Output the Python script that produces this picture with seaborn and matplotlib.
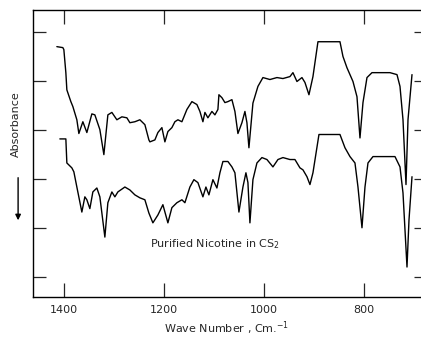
import pandas as pd
import seaborn as sns
import matplotlib.pyplot as plt

# Spectrum readings (wave number in cm-1, absorbance in chart divisions)
upper_wn = [1414, 1402, 1400, 1396, 1394, 1386, 1382, 1374, 1370, 1362,
            1354, 1344, 1338, 1328, 1320, 1312, 1304, 1294, 1284, 1274,
            1268, 1258, 1248, 1238, 1230, 1228, 1218, 1212, 1204, 1198,
            1192, 1184, 1178, 1172, 1164, 1154, 1144, 1134, 1128, 1122,
            1118, 1112, 1104, 1098, 1092, 1090, 1084, 1078, 1072, 1064,
            1058, 1052, 1044, 1038, 1034, 1030, 1022, 1012, 1002, 988,
            974, 962, 948, 942, 934, 924, 918, 910, 902, 892,
            848, 842, 834, 822, 814, 808, 802, 794, 784, 768,
            748, 734, 728, 722, 716, 712, 704]
upper_abs = [5.70, 5.68, 5.64, 5.17, 4.82, 4.58, 4.48, 4.21, 3.93, 4.17,
             3.95, 4.33, 4.31, 4.01, 3.50, 4.31, 4.36, 4.21, 4.27, 4.25,
             4.15, 4.17, 4.21, 4.11, 3.80, 3.76, 3.80, 3.95, 4.05, 3.76,
             3.97, 4.05, 4.17, 4.21, 4.17, 4.42, 4.58, 4.52, 4.38, 4.17,
             4.36, 4.25, 4.38, 4.31, 4.42, 4.72, 4.66, 4.56, 4.58, 4.62,
             4.38, 3.93, 4.15, 4.38, 4.15, 3.64, 4.55, 4.89, 5.07, 5.03,
             5.07, 5.05, 5.09, 5.17, 4.99, 5.07, 4.97, 4.72, 5.09, 5.80,
             5.80, 5.50, 5.27, 4.99, 4.68, 3.84, 4.56, 5.07, 5.17, 5.17,
             5.17, 5.13, 4.89, 4.21, 2.89, 4.21, 5.13]

lower_wn = [1408, 1396, 1394, 1384, 1380, 1374, 1364, 1358, 1354, 1348,
            1342, 1334, 1328, 1318, 1312, 1304, 1298, 1292, 1278, 1268,
            1258, 1248, 1238, 1230, 1222, 1212, 1202, 1192, 1184, 1174,
            1164, 1158, 1148, 1140, 1132, 1122, 1116, 1110, 1102, 1094,
            1088, 1082, 1072, 1064, 1058, 1050, 1042, 1036, 1032, 1028,
            1022, 1014, 1004, 994, 982, 972, 962, 948, 938, 928,
            922, 914, 908, 902, 890, 848, 838, 828, 818, 812,
            804, 798, 792, 782, 762, 738, 728, 722, 714, 710,
            704]
lower_abs = [3.82, 3.82, 3.33, 3.23, 3.15, 2.84, 2.33, 2.64, 2.58, 2.40,
             2.74, 2.82, 2.64, 1.82, 2.52, 2.74, 2.64, 2.74, 2.84, 2.78,
             2.68, 2.62, 2.58, 2.31, 2.11, 2.27, 2.48, 2.11, 2.42, 2.52,
             2.58, 2.52, 2.84, 2.99, 2.93, 2.64, 2.84, 2.68, 2.99, 2.82,
             3.13, 3.36, 3.36, 3.25, 3.13, 2.33, 2.84, 3.13, 2.93, 2.11,
             2.99, 3.33, 3.44, 3.40, 3.25, 3.40, 3.44, 3.40, 3.40, 3.23,
             3.19, 3.05, 2.89, 3.13, 3.91, 3.91, 3.64, 3.46, 3.33, 2.84,
             2.01, 2.84, 3.33, 3.46, 3.46, 3.46, 3.25, 2.72, 1.21, 2.17,
             3.05]

x_ticks = [1400, 1200, 1000, 800]
y_ticks = [1, 2, 3, 4, 5, 6]

upper = pd.DataFrame({'wn': upper_wn, 'absorbance': upper_abs})
lower = pd.DataFrame({'wn': lower_wn, 'absorbance': lower_abs})

sns.set_style("ticks")
plt.rcParams['font.family'] = ['DejaVu Sans']

fig = plt.figure(figsize=(4.21, 3.39), dpi=100)
ax = fig.add_axes([0.078, 0.124, 0.922, 0.847])

for df in (upper, lower):
    sns.lineplot(data=df, x='wn', y='absorbance', ax=ax, color='black',
                 linewidth=1.0, sort=False, estimator=None)

ax.set_xlim(1462, 686)
ax.set_ylim(0.6, 6.45)
ax.set_xticks(x_ticks)
ax.set_xticklabels([str(t) for t in x_ticks], fontsize=8)
ax.set_yticks(y_ticks)
ax.set_yticklabels([])

ax.tick_params(axis='x', direction='in', length=10, width=0.9,
               top=True, bottom=True, pad=6)
ax.tick_params(axis='y', direction='in', length=9, width=0.9,
               left=True, right=False)
ax.spines['right'].set_visible(False)
for side in ('left', 'bottom', 'top'):
    ax.spines[side].set_linewidth(1.0)
    ax.spines[side].set_color('black')

# short right-hand ticks
ax_r = ax.twinx()
ax_r.set_ylim(ax.get_ylim())
ax_r.set_yticks(y_ticks)
ax_r.set_yticklabels([])
ax_r.tick_params(axis='y', direction='in', length=5, width=0.9)
for side in ax_r.spines:
    ax_r.spines[side].set_visible(False)

ax.set_xlabel('Wave Number , Cm.$^{-1}$', fontsize=8, labelpad=3)
ax.set_ylabel('')

ax.text(1228, 1.68, 'Purified Nicotine in CS$_2$', fontsize=8,
        ha='left', va='center')

fig.text(0.038, 0.634, 'Absorbance', rotation=90, fontsize=8,
         ha='center', va='center')
fig.add_artist(plt.Annotation('', xy=(0.043, 0.342), xytext=(0.043, 0.484),
                              xycoords='figure fraction',
                              arrowprops=dict(arrowstyle='-|>', color='black',
                                              lw=1.0, mutation_scale=8)))

fig.savefig('out.png', dpi=100, facecolor='white')
